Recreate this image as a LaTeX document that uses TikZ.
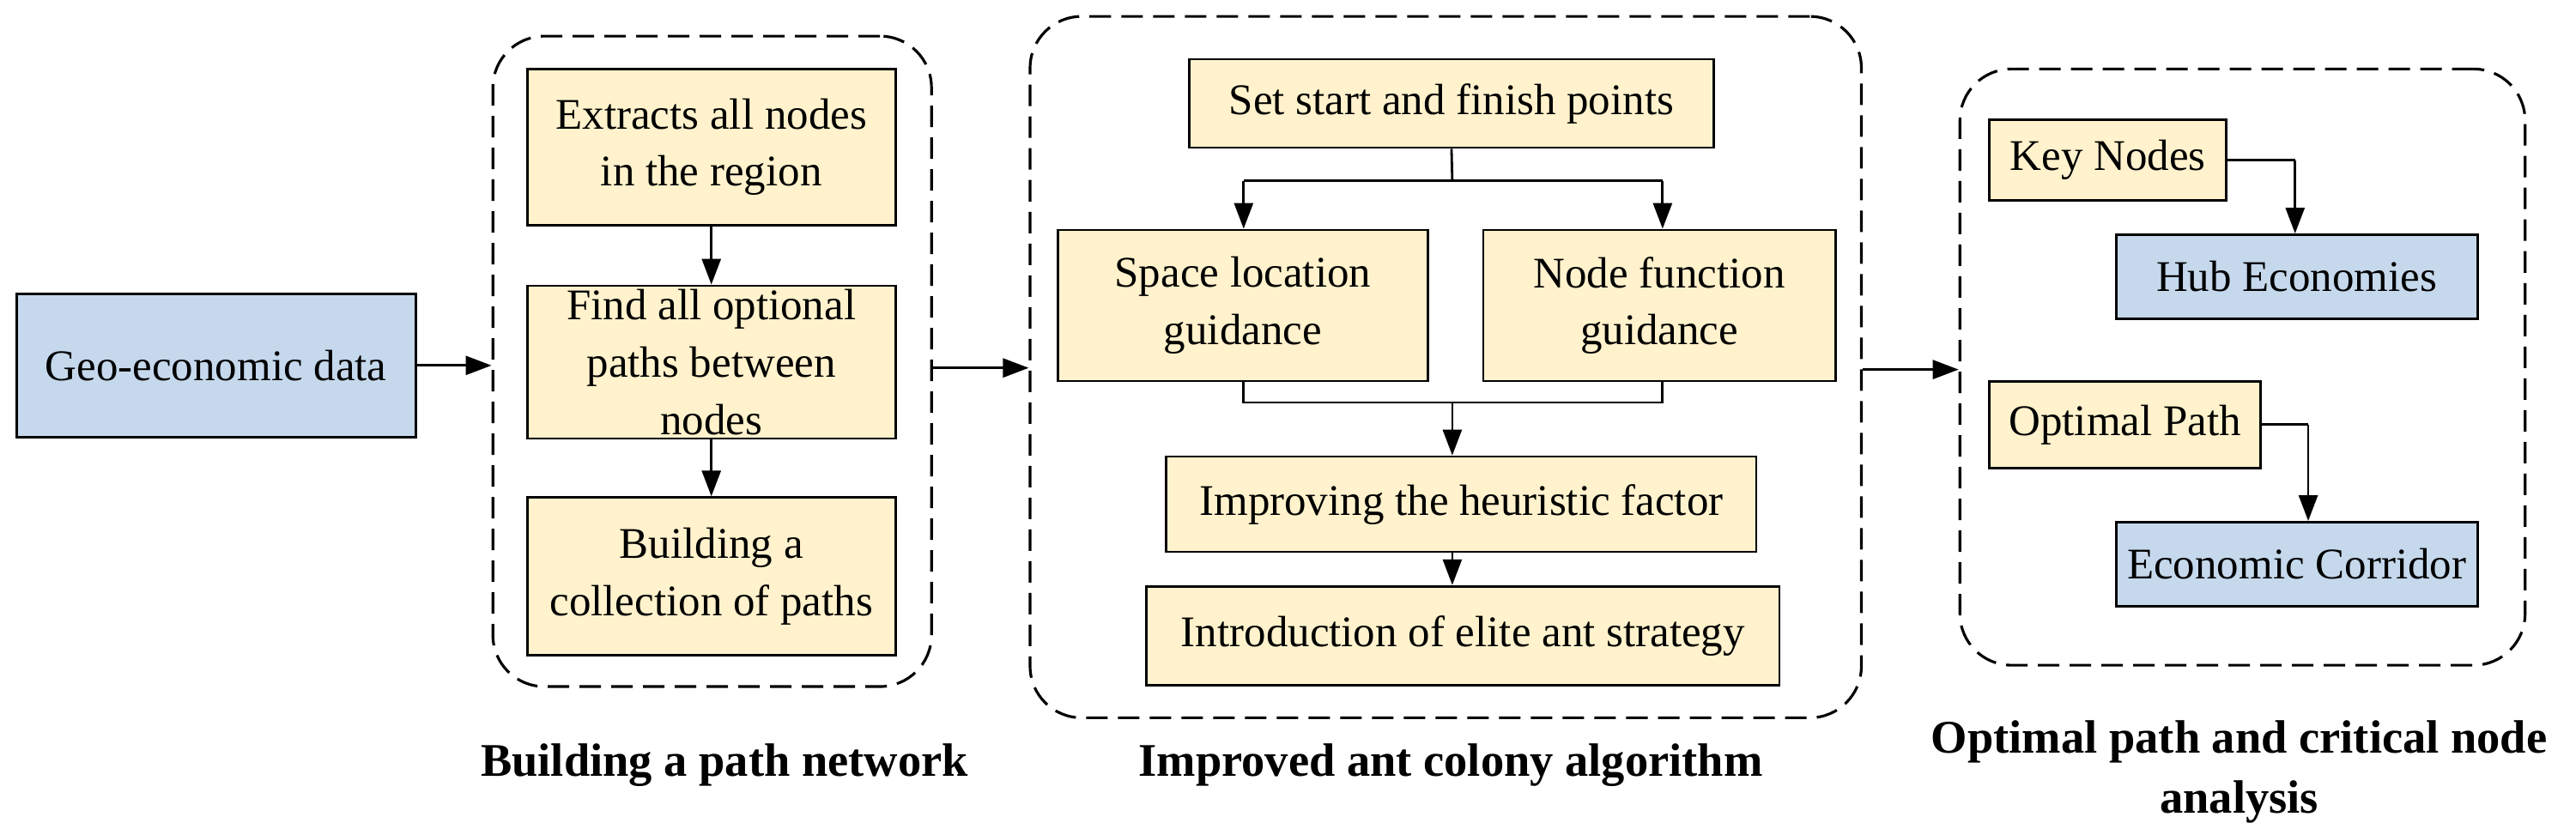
\documentclass[tikz,border=0pt]{standalone}
\usepackage{fontspec}
\setmainfont{Liberation Serif}
\usetikzlibrary{arrows.meta,fit}
\definecolor{yfill}{HTML}{FFF2CC}
\definecolor{bfill}{HTML}{C5D8EC}
\begin{document}
\begin{tikzpicture}[x=0.01914cm,y=-0.01914cm,
  box/.style={draw=black,line width=0.8pt,inner sep=0pt,align=center,font=\fontsize{14.5}{19}\selectfont},
  ybox/.style={box,fill=yfill},
  bbox/.style={box,fill=bfill},
  grp/.style={draw=black,line width=0.9pt,dash pattern=on 0.25cm off 0.12cm,rounded corners=0.6cm,inner sep=0pt},
  arr/.style={line width=0.8pt,-{Triangle[length=0.3cm,width=0.22cm]}},
  ln/.style={line width=0.8pt},
  captext/.style={font=\bfseries\fontsize{15.5}{20}\selectfont,align=center}]
\useasboundingbox (0,0) rectangle (1568,508);
% groups
\node[grp,fit={(300,22)(567,418)}] (g1) {};
\node[grp,fit={(627,10)(1133,437)}] (g2) {};
\node[grp,fit={(1193,42)(1537,405)}] (g3) {};
% left
\node[bbox,minimum width=4.65cm,minimum height=1.67cm] (geo) at (131.5,222.5) {Geo-economic data};
% group 1
\node[ybox,minimum width=4.29cm,minimum height=1.82cm] (ex) at (433,89.5) {Extracts all nodes\\in the region};
\node[ybox,minimum width=4.29cm,minimum height=1.78cm] (fi) at (433,220.5) {Find all optional\\paths between\\nodes};
\node[ybox,minimum width=4.29cm,minimum height=1.84cm] (bu) at (433,351) {Building a\\collection of paths};
% group 2
\node[ybox,minimum width=6.11cm,minimum height=1.03cm] (set) at (883.5,63) {Set start and finish points};
\node[ybox,minimum width=4.31cm,minimum height=1.76cm] (sp) at (756.5,186) {Space location\\guidance};
\node[ybox,minimum width=4.10cm,minimum height=1.76cm] (nf) at (1010,186) {Node function\\guidance};
\node[ybox,minimum width=6.87cm,minimum height=1.11cm] (im) at (889.5,307) {Improving the heuristic factor};
\node[ybox,minimum width=7.37cm,minimum height=1.15cm] (el) at (890.5,387) {Introduction of elite ant strategy};
% group 3
\node[ybox,minimum width=2.76cm,minimum height=0.94cm] (kn) at (1283,97.5) {Key Nodes};
\node[bbox,minimum width=4.21cm,minimum height=0.98cm] (hub) at (1398,168.5) {Hub Economies};
\node[ybox,minimum width=3.16cm,minimum height=1.01cm] (op) at (1293.5,258.5) {Optimal Path};
\node[bbox,minimum width=4.21cm,minimum height=0.98cm] (ec) at (1398,343.5) {Economic Corridor};
% captions
\node[captext] (c1) at (441,466) {Building a path network};
\node[captext] (c2) at (883,466) {Improved ant colony algorithm};
\node[captext] (c3) at (1363,470) {Optimal path and critical node\\analysis};
% coordinates
\coordinate (s0) at (884,110);
\coordinate (sl) at (757,110);
\coordinate (sr) at (1012,110);
\coordinate (m0) at (884,245);
\coordinate (ml) at (757,245);
\coordinate (mr) at (1012,245);
\coordinate (k1) at (1397,97.5);
\coordinate (o1) at (1405,258.5);
% connectors
\draw[arr] (geo.east) -- (g1.west |- geo.east);
\draw[arr] (ex) -- (fi);
\draw[arr] (fi) -- (bu);
\draw[arr] (g1.east |- 0,224) -- (g2.west |- 0,224);
\draw[ln] (set.south) -- (s0);
\draw[ln] (sl) -- (sr);
\draw[arr] (sl) -- (sl |- sp.north);
\draw[arr] (sr) -- (sr |- nf.north);
\draw[ln] (sp.south -| ml) -- (ml) -- (mr) -- (nf.south -| mr);
\draw[arr] (m0) -- (im.north -| m0);
\draw[arr] (im.south -| m0) -- (el.north -| m0);
\draw[arr] (g2.east |- 0,225) -- (g3.west |- 0,225);
\draw[ln] (kn.east |- k1) -- (k1);
\draw[arr] (k1) -- (hub.north -| k1);
\draw[ln] (op.east |- o1) -- (o1);
\draw[arr] (o1) -- (ec.north -| o1);
\end{tikzpicture}
\end{document}
